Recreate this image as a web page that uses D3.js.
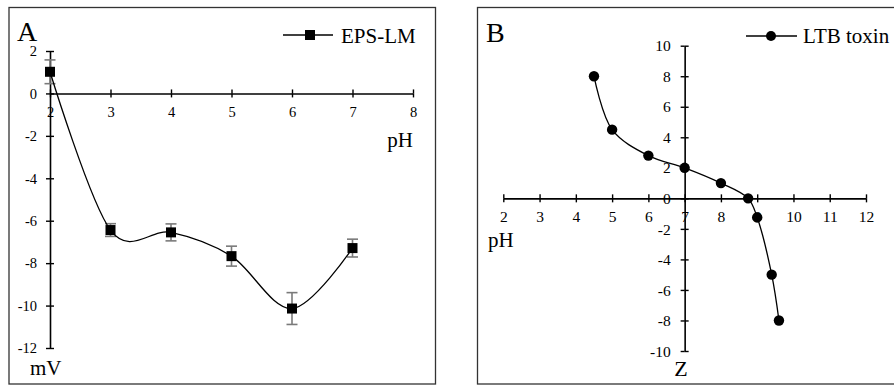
<!DOCTYPE html>
<html><head><meta charset="utf-8">
<script src="https://cdn.jsdelivr.net/npm/d3@7"></script>
<style>
body{margin:0;background:#fff;}
svg{display:block;}
svg text{font-family:"Liberation Serif","Times New Roman",Times,"DejaVu Serif",serif !important;fill:#000;}
</style></head>
<body>
<svg id="chart" width="894" height="385"></svg>
<script>
// Panel A: EPS-LM zeta potential (mV) vs pH
const phA = [2, 3, 4, 5, 6, 7];
const mvA = [1.02, -6.44, -6.55, -7.67, -10.14, -7.29];
const errA = [0.56, 0.3, 0.4, 0.47, 0.75, 0.42];
const xTicksA = [2, 3, 4, 5, 6, 7, 8];
const yTicksA = [2, 0, -2, -4, -6, -8, -10, -12];

// Panel B: LTB toxin Z vs pH
const phB = [4.5, 5, 6, 7, 8, 8.75, 9, 9.4, 9.6];
const zB = [8, 4.5, 2.8, 2.0, 1.0, 0, -1.25, -5, -8];
const xTicksB = [2, 3, 4, 5, 6, 7, 8, 9, 10, 11, 12];
const yTicksB = [10, 8, 6, 4, 2, 0, -2, -4, -6, -8, -10];

const fmt = d => String(d);
const svg = d3.select("#chart");

// frames
svg.append("rect").attr("x",9).attr("y",7.5).attr("width",426.5).attr("height",376.5)
  .attr("fill","none").attr("stroke","#333").attr("stroke-width",1.3);
svg.append("rect").attr("x",477.5).attr("y",7.5).attr("width",430).attr("height",376.5)
  .attr("fill","none").attr("stroke","#333").attr("stroke-width",1.3);

function crossTicks(g, dir){
  g.selectAll(".tick line").attr("stroke","#000").attr("stroke-width",1.4);
  g.selectAll(".tick").append("line").attr("stroke","#000").attr("stroke-width",1.4)
    .attr(dir==="x"?"y2":"x2", -4);
  g.select(".domain").attr("stroke","#000").attr("stroke-width",1.6);
}

// ---------- Panel A ----------
const xA = d3.scaleLinear().domain([2,8]).range([50,413]);
const yA = d3.scaleLinear().domain([-12,2]).range([348,51]);

const gA = svg.append("g");
const axXA = gA.append("g").attr("transform",`translate(0,${yA(0)})`)
  .call(d3.axisBottom(xA).tickValues(xTicksA).tickSizeInner(4).tickSizeOuter(0).tickFormat(fmt));
crossTicks(axXA,"x");
axXA.selectAll("text").attr("y",24).attr("dy",0).attr("font-size",14.5);

const axYA = gA.append("g").attr("transform",`translate(${xA(2)},0)`)
  .call(d3.axisRight(yA).tickValues(yTicksA).tickSizeInner(4).tickSizeOuter(0).tickFormat(fmt));
crossTicks(axYA,"y");
axYA.selectAll("text").attr("x",-13).attr("dy","0.33em").attr("text-anchor","end").attr("font-size",14.5);

const dataA = phA.map((p,i)=>({x:p,y:mvA[i],e:errA[i]}));
// error bars
const eb = gA.append("g").attr("stroke","#7a7a7a").attr("stroke-width",1.6);
dataA.forEach(d=>{
  eb.append("line").attr("x1",xA(d.x)).attr("x2",xA(d.x)).attr("y1",yA(d.y+d.e)).attr("y2",yA(d.y-d.e));
  eb.append("line").attr("x1",xA(d.x)-5.5).attr("x2",xA(d.x)+5.5).attr("y1",yA(d.y+d.e)).attr("y2",yA(d.y+d.e));
  eb.append("line").attr("x1",xA(d.x)-5.5).attr("x2",xA(d.x)+5.5).attr("y1",yA(d.y-d.e)).attr("y2",yA(d.y-d.e));
});
const lineA = d3.line().x(d=>xA(d.x)).y(d=>yA(d.y)).curve(d3.curveCardinal.tension(0));
gA.append("path").datum(dataA).attr("d",lineA).attr("fill","none").attr("stroke","#000").attr("stroke-width",1.3);
gA.selectAll("rect.m").data(dataA).join("rect").attr("class","m")
  .attr("x",d=>xA(d.x)-5).attr("y",d=>yA(d.y)-5).attr("width",10).attr("height",10).attr("fill","#000");

gA.append("text").attr("x",17).attr("y",41).attr("font-size",28).text("A");
gA.append("text").attr("x",413).attr("y",147).attr("text-anchor","end").attr("font-size",21).text("pH");
gA.append("text").attr("x",30).attr("y",375).attr("font-size",21).text("mV");
// legend A
gA.append("line").attr("x1",283).attr("x2",333).attr("y1",35).attr("y2",35).attr("stroke","#000").attr("stroke-width",1.3);
gA.append("rect").attr("x",305).attr("y",30).attr("width",10).attr("height",10).attr("fill","#000");
gA.append("text").attr("x",341).attr("y",43).attr("font-size",21).text("EPS-LM");

// ---------- Panel B ----------
const xB = d3.scaleLinear().domain([2,12]).range([503.3,866]);
const yB = d3.scaleLinear().domain([-10,10]).range([351,45.7]);
const gB = svg.append("g");

const axXB = gB.append("g").attr("transform",`translate(0,${yB(0)})`)
  .call(d3.axisBottom(xB).tickValues(xTicksB).tickSizeInner(4).tickSizeOuter(0).tickFormat(fmt));
crossTicks(axXB,"x");
axXB.selectAll("text").attr("y",23.5).attr("dy",0).attr("font-size",15.5);

const axYB = gB.append("g").attr("transform",`translate(${xB(7)},0)`)
  .call(d3.axisRight(yB).tickValues(yTicksB).tickSizeInner(4).tickSizeOuter(0).tickFormat(fmt));
crossTicks(axYB,"y");
axYB.selectAll("text").attr("x",-14).attr("dy","0.33em").attr("text-anchor","end").attr("font-size",15.5);

const dataB = phB.map((p,i)=>({x:p,y:zB[i]}));
const lineB = d3.line().x(d=>xB(d.x)).y(d=>yB(d.y)).curve(d3.curveCatmullRom.alpha(0.5));
gB.append("path").datum(dataB).attr("d",lineB).attr("fill","none").attr("stroke","#000").attr("stroke-width",1.3);
gB.selectAll("circle.m").data(dataB).join("circle").attr("class","m")
  .attr("cx",d=>xB(d.x)).attr("cy",d=>yB(d.y)).attr("r",5.2).attr("fill","#000");

gB.append("text").attr("x",486).attr("y",42).attr("font-size",28).text("B");
gB.append("text").attr("x",488).attr("y",247).attr("font-size",21).text("pH");
gB.append("text").attr("x",681).attr("y",376).attr("text-anchor","middle").attr("font-size",22).text("Z");
// legend B
gB.append("line").attr("x1",746).attr("x2",797).attr("y1",36).attr("y2",36).attr("stroke","#000").attr("stroke-width",1.3);
gB.append("circle").attr("cx",771).attr("cy",36).attr("r",5).attr("fill","#000");
gB.append("text").attr("x",803).attr("y",43).attr("font-size",21).text("LTB toxin");
</script>
</body></html>
